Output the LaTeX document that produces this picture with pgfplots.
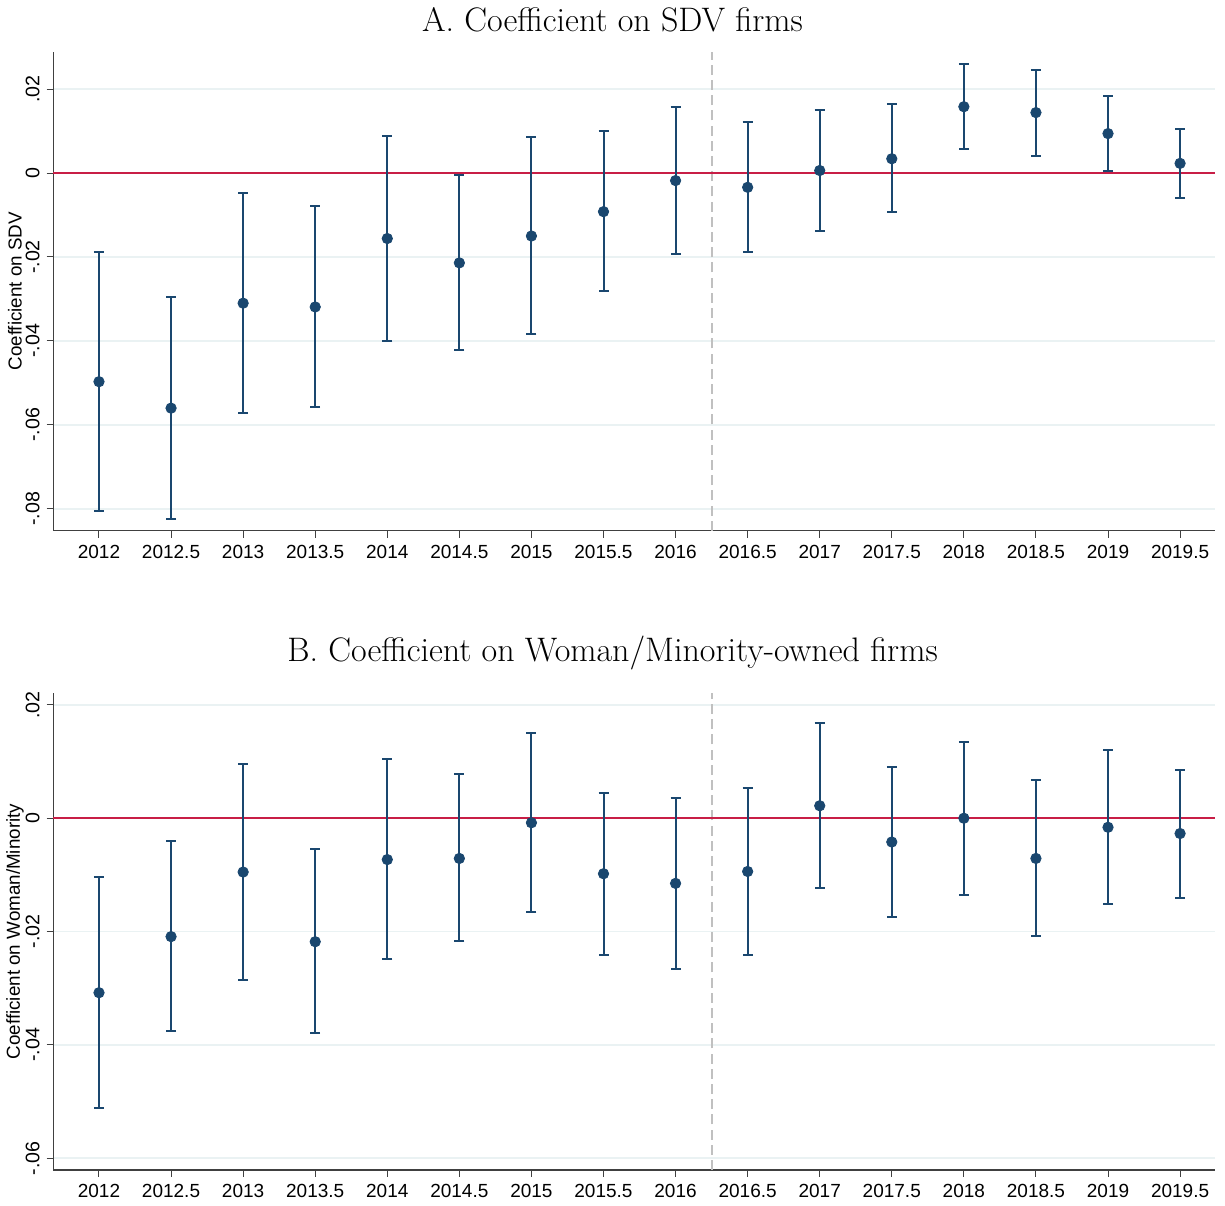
\documentclass[border=0pt]{standalone}
\usepackage{fontspec}
\usepackage{pgfplots}
\usepackage{pgfplotstable}
\pgfplotsset{compat=1.18}
\newfontfamily\helv{Liberation Sans}
\definecolor{navy}{RGB}{26,71,111}
\definecolor{redl}{RGB}{200,30,70}
\definecolor{gridc}{RGB}{234,242,243}
\definecolor{vline}{RGB}{192,192,192}

\pgfplotstableread{
x y hi lo
2012 -0.0497 -0.0189 -0.0805
2012.5 -0.0560 -0.0295 -0.0823
2013 -0.0310 -0.0048 -0.0571
2013.5 -0.0319 -0.0079 -0.0557
2014 -0.0156 0.0089 -0.0399
2014.5 -0.0214 -0.0005 -0.0422
2015 -0.0150 0.0086 -0.0384
2015.5 -0.0092 0.0099 -0.0280
2016 -0.0018 0.0157 -0.0194
2016.5 -0.0034 0.0121 -0.0189
2017 0.0006 0.0150 -0.0138
2017.5 0.0034 0.0164 -0.0094
2018 0.0158 0.0260 0.0057
2018.5 0.0144 0.0246 0.0041
2019 0.0094 0.0183 0.0005
2019.5 0.0023 0.0106 -0.0060
}\tabA

\pgfplotstableread{
x y hi lo
2012 -0.0308 -0.0104 -0.0511
2012.5 -0.0209 -0.0041 -0.0375
2013 -0.0095 0.0095 -0.0286
2013.5 -0.0218 -0.0055 -0.0379
2014 -0.0073 0.0105 -0.0249
2014.5 -0.0071 0.0078 -0.0217
2015 -0.0008 0.0151 -0.0165
2015.5 -0.0098 0.0045 -0.0242
2016 -0.0115 0.0036 -0.0266
2016.5 -0.0094 0.0054 -0.0242
2017 0.0022 0.0168 -0.0124
2017.5 -0.0042 0.0091 -0.0174
2018 0.0000 0.0135 -0.0135
2018.5 -0.0071 0.0067 -0.0208
2019 -0.0016 0.0120 -0.0151
2019.5 -0.0027 0.0086 -0.0140
}\tabB

\pgfplotsset{
  panel/.style={
    scale only axis,
    width=580.9pt,
    xmin=2011.683, xmax=2019.743,
    axis lines*=left,
    axis line style={draw=black!75, line width=0.6pt},
    xtick={2012,2012.5,...,2019.5},
    xticklabels={2012,2012.5,2013,2013.5,2014,2014.5,2015,2015.5,2016,2016.5,2017,2017.5,2018,2018.5,2019,2019.5},
    scaled y ticks=false,
    tick align=outside,
    major tick length=3.4pt,
    tick style={draw=black!75, line width=0.5pt},
    /pgf/number format/assume math mode=true,
    xticklabel style={font=\helv\fontsize{9.5}{11}\selectfont, yshift=-0.3pt},
    yticklabel style={font=\helv\fontsize{9.8}{11}\selectfont, rotate=90, anchor=south},
    ymajorgrids,
    grid style={draw=gridc, line width=0.7pt},
    clip=false,
    every axis y label/.style={at={(axis description cs:0,0.5)}, xshift=-19.2pt, rotate=90, anchor=center, font=\helv\fontsize{9.4}{11}\selectfont},
  },
  ebar/.style={
    only marks, mark=*, mark size=2.6pt, color=navy,
    mark options={fill=navy, draw=navy},
    error bars/.cd, y dir=both, y explicit,
    error bar style={line width=1pt, color=navy},
    error mark options={rotate=90, mark size=2.5pt, line width=1pt, color=navy},
  },
  vl/.style={vline, line width=0.9pt, dash pattern=on 5pt off 2.6pt, forget plot},
}

\begin{document}
\begin{tikzpicture}
\useasboundingbox (0,0) rectangle (612.5pt,-602.5pt);
\node[font=\fontsize{17}{20}\selectfont] at (306.25pt,-10pt) {A. Coefficient on SDV firms};
\node[font=\fontsize{17}{20}\selectfont] at (306.25pt,-326.5pt) {B. Coefficient on Woman/Minority-owned firms};

\begin{axis}[panel,
  at={(26.65pt,-265.35pt)}, anchor=south west,
  height=239.5pt,
  ymin=-0.0852, ymax=0.0289,
  ytick={-0.08,-0.06,-0.04,-0.02,0,0.02},
  yticklabels={-.08,-.06,-.04,-.02,0,.02},
  ylabel={Coefficient on SDV},
]
\addplot[vl] coordinates {(2016.25,-0.0852) (2016.25,0.0289)};
\addplot[redl, line width=0.8pt, forget plot] coordinates {(2011.683,0) (2019.743,0)};
\addplot+[ebar] table[x=x, y=y, y error plus expr=\thisrow{hi}-\thisrow{y}, y error minus expr=\thisrow{y}-\thisrow{lo}] {\tabA};
\end{axis}

\begin{axis}[panel,
  at={(26.65pt,-585pt)}, anchor=south west,
  height=238.5pt,
  ymin=-0.0621, ymax=0.0221,
  ytick={-0.06,-0.04,-0.02,0,0.02},
  yticklabels={-.06,-.04,-.02,0,.02},
  ylabel={Coefficient on Woman/Minority},
]
\addplot[vl] coordinates {(2016.25,-0.0621) (2016.25,0.0221)};
\addplot[redl, line width=0.8pt, forget plot] coordinates {(2011.683,0) (2019.743,0)};
\addplot+[ebar] table[x=x, y=y, y error plus expr=\thisrow{hi}-\thisrow{y}, y error minus expr=\thisrow{y}-\thisrow{lo}] {\tabB};
\end{axis}
\end{tikzpicture}
\end{document}
